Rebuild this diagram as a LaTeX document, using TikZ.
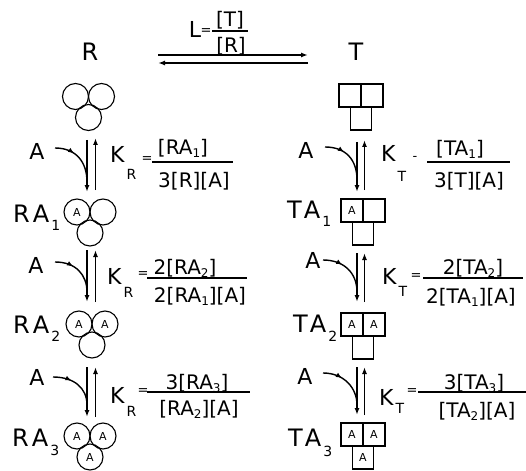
\documentclass[tikz,border=0pt]{standalone}
\usepackage{fontspec}
\setmainfont{DejaVu Sans}
\usetikzlibrary{arrows.meta,decorations.markings}
\newcommand\fsz[1]{\fontsize{#1}{#1}\selectfont}
\newcommand\lsub[2]{\kern2pt\raisebox{-#1pt}{\fsz{14}#2}}
\newcommand\fsub[1]{\raisebox{-3pt}{\fsz{12}#1}}
\newcommand\kk[2]{K\kern2pt\raisebox{-#1pt}{\fsz{14}#2}}
% three-circle molecule: name, x, y, labels
\newcommand\rmol[6]{%
  \node[cell,circle,minimum size=26pt] (#1l) at (#2-13,#3) {#4};
  \node[cell,circle,minimum size=26pt] (#1r) at (#2+13,#3) {#5};
  \node[cell,circle,minimum size=26pt] (#1b) at (#2,#3+21) {#6};}
% three-square molecule: name, centre x, top y, labels
\newcommand\tmol[6]{%
  \node[cell,minimum width=22pt,minimum height=23pt] (#1l) at (#2-11,#3+11.5) {#4};
  \node[cell,minimum width=22pt,minimum height=23pt] (#1r) at (#2+11,#3+11.5) {#5};
  \node[cell,minimum width=21pt,minimum height=23pt] (#1b) at (#2,#3+34.5) {#6};}
\begin{document}
\begin{tikzpicture}[x=1pt,y=-1pt,
  big/.style={inner sep=0,anchor=base,font=\fsz{22}},
  lab/.style={inner sep=0,anchor=base west,font=\fsz{24}},
  kl/.style={inner sep=0,anchor=base west,font=\fsz{22}},
  frc/.style={inner sep=0,anchor=base,font=\fsz{20}},
  eqs/.style={inner sep=0,font=\fsz{13}},
  fbar/.style={line width=1.1pt},
  rxn/.style={line width=1.6pt,-{Latex[length=7pt,width=5pt]}},
  bind/.style={line width=1.4pt,postaction={decorate},
    decoration={markings,mark=at position 0.38 with {\arrow{Latex[length=6pt,width=5pt]}}}},
  cell/.style={draw,line width=1.1pt,inner sep=0,font=\fsz{11}}
]
\useasboundingbox (0,0) rectangle (526,470);

% ---- top: R <-> T
\node[lab,anchor=base] (R) at (90,61) {R};
\node[lab,anchor=base] (T) at (356,61) {T};
\node[big] (L) at (195,38) {L};
\node[eqs] (Leq) at (206,32) {=};
\draw[fbar] (212,31) -- (248,31);
\node[frc] (Lnum) at (230,27) {[T]};
\node[frc] (Lden) at (231,53) {[R]};
\coordinate (tl1) at (158,55); \coordinate (tr1) at (308,55);
\coordinate (tl2) at (158,63); \coordinate (tr2) at (308,63);
\draw[rxn] (tl1) -- (tr1);
\draw[rxn] (tr2) -- (tl2);

% ---- R column molecules
\rmol{r0}{88.5}{96.5}{}{}{}
\rmol{r1}{90}{212}{A}{}{}
\rmol{r2}{92}{324}{A}{A}{}
\rmol{r3}{90}{436}{A}{A}{A}
\node[lab] (RA1) at (13,222) {R\kern3pt A\lsub{8}{1}};
\node[lab] (RA2) at (13,333) {R\kern3pt A\lsub{8}{2}};
\node[lab] (RA3) at (12,446) {R\kern3pt A\lsub{9}{3}};

% ---- T column molecules
\tmol{t0}{361}{84}{}{}{}
\tmol{t1}{363}{199}{A}{}{}
\tmol{t2}{363}{313}{A}{A}{}
\tmol{t3}{363}{423}{A}{A}{A}
\node[lab] (TA1) at (287,218) {T\kern2pt A\lsub{8}{1}};
\node[lab] (TA2) at (293,332) {T\kern2pt A\lsub{9}{2}};
\node[lab] (TA3) at (288,446) {T\kern2pt A\lsub{10}{3}};

% ---- R column, step 1
\node[big] (a1) at (37,160) {A};
\coordinate (a1s) at (55,148); \coordinate (a1e) at (87,182);
\draw[bind] (a1s) .. controls (76,148) and (87,162) .. (a1e);
\coordinate (d1t) at (87,140); \coordinate (d1b) at (87,192);
\coordinate (u1t) at (95.5,138); \coordinate (u1b) at (95.5,190);
\draw[rxn] (d1t) -- (d1b);
\draw[rxn] (u1b) -- (u1t);
\node[kl] (k1) at (110,163) {\kk{17}{R}};
\node[eqs] (e1) at (147,160) {=};
\draw[fbar] (152,162) -- (233,162);
\node[frc] (n1) at (183,155) {[RA\fsub{1}]};
\node[frc] (m1) at (194,187) {3[R][A]};

% ---- R column, step 2
\node[big] (a2) at (36,273) {A};
\coordinate (a2s) at (55,262); \coordinate (a2e) at (87,292);
\draw[bind] (a2s) .. controls (76,262) and (87,275) .. (a2e);
\coordinate (d2t) at (87,250); \coordinate (d2b) at (87,302);
\coordinate (u2t) at (95.5,250); \coordinate (u2b) at (95.5,302);
\draw[rxn] (d2t) -- (d2b);
\draw[rxn] (u2b) -- (u2t);
\node[kl] (k2) at (107,284) {\kk{13}{R}};
\node[eqs] (e2) at (143,275) {=};
\draw[fbar] (147,278) -- (247,278);
\node[frc] (n2) at (185,274) {2[RA\fsub{2}]};
\node[frc] (m2) at (200,302) {2[RA\fsub{1}][A]};

% ---- R column, step 3
\node[big] (a3) at (37,385) {A};
\coordinate (a3s) at (53,377); \coordinate (a3e) at (87,405);
\draw[bind] (a3s) .. controls (74,377) and (87,388) .. (a3e);
\coordinate (d3t) at (87,367); \coordinate (d3b) at (87,417);
\coordinate (u3t) at (95.5,367); \coordinate (u3b) at (95.5,417);
\draw[rxn] (d3t) -- (d3b);
\draw[rxn] (u3b) -- (u3t);
\node[kl] (k3) at (110,403) {\kk{13}{R}};
\node[eqs] (e3) at (143,392) {=};
\draw[fbar] (147,392) -- (250,392);
\node[frc] (n3) at (197,389) {3[RA\fsub{3}]};
\node[frc] (m3) at (199,415) {[RA\fsub{2}][A]};

% ---- T column, step 1
\node[big] (b1) at (306,159) {A};
\coordinate (b1s) at (325,147); \coordinate (b1e) at (357,180);
\draw[bind] (b1s) .. controls (346,147) and (357,160) .. (b1e);
\coordinate (f1t) at (357,142); \coordinate (f1b) at (357,192);
\coordinate (g1t) at (364.5,140); \coordinate (g1b) at (364.5,190);
\draw[rxn] (f1t) -- (f1b);
\draw[rxn] (g1b) -- (g1t);
\node[kl] (q1) at (381,162) {\kk{20}{T}};
\node[eqs] (h1) at (415,158) {-};
\draw[fbar] (427,162) -- (510,162);
\node[frc] (p1) at (460,156) {[TA\fsub{1}]};
\node[frc] (o1) at (469,187) {3[T][A]};

% ---- T column, step 2
\node[big] (b2) at (313,268) {A};
\coordinate (b2s) at (323,260); \coordinate (b2e) at (357,292);
\draw[bind] (b2s) .. controls (344,260) and (357,273) .. (b2e);
\coordinate (f2t) at (357,253); \coordinate (f2b) at (357,302);
\coordinate (g2t) at (364.5,253); \coordinate (g2b) at (364.5,302);
\draw[rxn] (f2t) -- (f2b);
\draw[rxn] (g2b) -- (g2t);
\node[kl] (q2) at (382,284) {\kk{12}{T}};
\node[eqs] (h2) at (416,277) {=};
\draw[fbar] (423,278) -- (523,278);
\node[frc] (p2) at (473,274) {2[TA\fsub{2}]};
\node[frc] (o2) at (471,303) {2[TA\fsub{1}][A]};

% ---- T column, step 3
\node[big] (b3) at (305,384) {A};
\coordinate (b3s) at (323,373); \coordinate (b3e) at (357,405);
\draw[bind] (b3s) .. controls (344,373) and (357,388) .. (b3e);
\coordinate (f3t) at (357,367); \coordinate (f3b) at (357,415);
\coordinate (g3t) at (364.5,367); \coordinate (g3b) at (364.5,415);
\draw[rxn] (f3t) -- (f3b);
\draw[rxn] (g3b) -- (g3t);
\node[kl] (q3) at (379,405) {\kk{8}{T}};
\node[eqs] (h3) at (412,392) {=};
\draw[fbar] (418,392) -- (526,392);
\node[frc] (p3) at (474,389) {3[TA\fsub{3}]};
\node[frc] (o3) at (477,417) {[TA\fsub{2}][A]};
\end{tikzpicture}
\end{document}
